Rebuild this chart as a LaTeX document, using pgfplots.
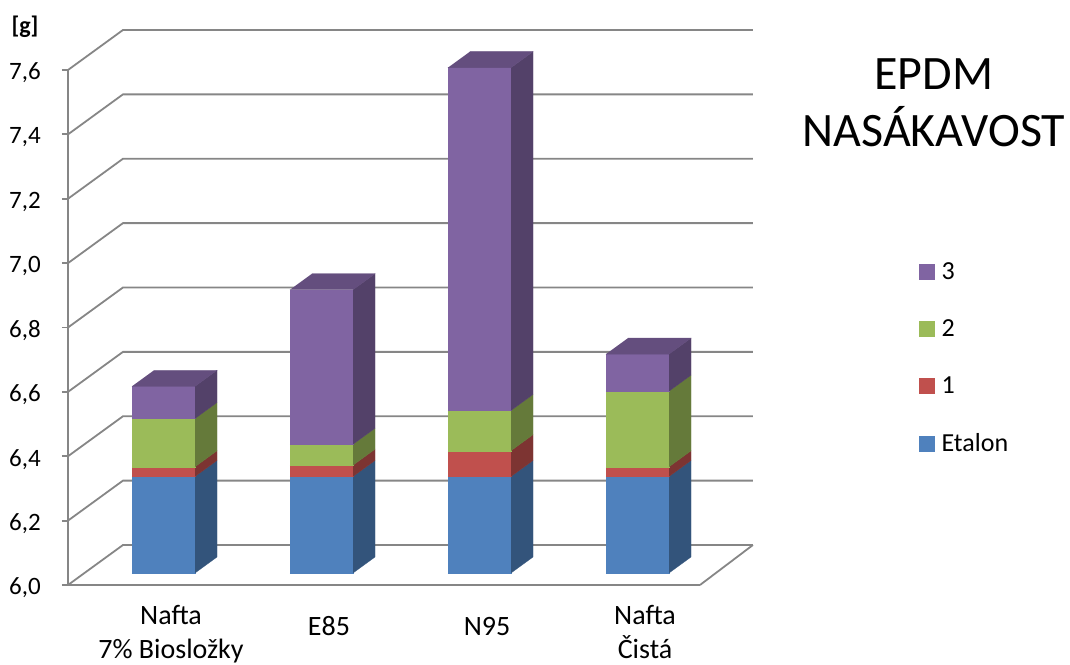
\documentclass[border=0pt]{standalone}
\usepackage{pgfplots}
\pgfplotsset{compat=1.18}
\usepackage{pgfplotstable}
\usepackage{fontspec}
\setmainfont{Carlito}

\definecolor{cBlue}{HTML}{4F81BD}
\definecolor{cRed}{HTML}{C0504D}
\definecolor{cGreen}{HTML}{9BBB59}
\definecolor{cPurple}{HTML}{8064A2}
\definecolor{wallgray}{HTML}{868686}

% series values (increments of the stacked bars)
\pgfplotstableread{
cat etalon s1 s2 s3
0 6.30 0.030 0.150 0.100
1 6.30 0.035 0.065 0.480
2 6.30 0.080 0.125 1.065
3 6.30 0.030 0.235 0.115
}\datatable

% 3D geometry (data units): front plane of bars at depth 0.3, bar depth 0.4
\newcommand\barseg[4]{%
  \pgfmathsetmacro\xa{#1+0.1044-0.1995}%
  \pgfmathsetmacro\xb{#1+0.1044+0.1995}%
  \pgfmathsetmacro\xc{\xb+0.1392}%
  \pgfmathsetmacro\ya{#2+0.0373}%
  \pgfmathsetmacro\yb{#3+0.0373}%
  \pgfmathsetmacro\yc{\ya+0.0497}%
  \pgfmathsetmacro\yd{\yb+0.0497}%
  \edef\tmp{%
    \noexpand\addplot[forget plot, fill=#4, draw=#4, line width=0.3pt] coordinates {(\xa,\ya) (\xb,\ya) (\xb,\yb) (\xa,\yb)};%
    \noexpand\addplot[forget plot, fill=#4!65!black, draw=#4!65!black, line width=0.3pt] coordinates {(\xb,\ya) (\xc,\yc) (\xc,\yd) (\xb,\yb)};%
  }\tmp}
\newcommand\bartop[3]{%
  \pgfmathsetmacro\xa{#1+0.1044-0.1995}%
  \pgfmathsetmacro\xb{#1+0.1044+0.1995}%
  \pgfmathsetmacro\xc{\xb+0.1392}%
  \pgfmathsetmacro\xd{\xa+0.1392}%
  \pgfmathsetmacro\ya{#2+0.0373}%
  \pgfmathsetmacro\yc{\ya+0.0497}%
  \edef\tmp{%
    \noexpand\addplot[forget plot, fill=#3!78!black, draw=#3!78!black, line width=0.3pt] coordinates {(\xa,\ya) (\xb,\ya) (\xc,\yc) (\xd,\yc)};%
  }\tmp}

\begin{document}
\begin{tikzpicture}
\useasboundingbox (0,0) rectangle (1070pt,664pt);
\begin{axis}[
  at={(68pt,79pt)}, anchor=south west,
  scale only axis, width=632pt, height=515pt,
  xmin=-0.5, xmax=3.5, ymin=6, ymax=7.6,
  clip=false,
  axis x line*=bottom, axis y line*=left,
  axis line style={-, draw=wallgray, line width=1.8pt},
  xtick={0,1,2,3},
  xticklabels={{Nafta\\7\% Biosložky},{\rule{0pt}{30pt}E85},{\rule{0pt}{30pt}N95},{Nafta\\Čistá}},
  x tick label style={align=center, font=\fontsize{28}{34}\selectfont, inner sep=0pt, anchor=north, xshift=24pt, yshift=-14pt},
  xtick style={draw=none},
  ytick={6,6.2,6.4,6.6,6.8,7.0,7.2,7.4,7.6},
  tick align=outside, major tick length=6pt,
  ytick style={draw=wallgray, line width=1.8pt},
  y tick label style={font=\fontsize{25}{30}\selectfont, inner sep=0pt, anchor=east, xshift=-21pt, yshift=-3pt},
  yticklabel style={/pgf/number format/.cd, use comma, fixed, fixed zerofill, precision=1, assume math mode=true},
  ylabel={[g]},
  every axis y label/.style={at={(axis description cs:-0.068,1.0835)}, anchor=center, font=\bfseries\fontsize{24}{29}\selectfont},
  title={EPDM\\NASÁKAVOST},
  every axis title/.style={at={(axis description cs:1.370,0.937)}, anchor=center, align=center, font=\fontsize{48}{57}\selectfont},
  legend style={at={(axis description cs:1.3465,0.4406)}, anchor=west, draw=none, fill=none,
    font=\fontsize{26}{31}\selectfont, row sep=34.6pt, column sep=5pt, inner sep=0pt},
  legend cell align=left,
]
% walls: side-wall diagonals and back-wall gridlines
\pgfplotsinvokeforeach{6.0,6.2,6.4,6.6,6.8,7.0,7.2,7.4,7.6}{
  \pgfmathsetmacro\yy{#1+0.1243}
  \edef\tmp{\noexpand\addplot[forget plot, draw=wallgray, line width=1.8pt] coordinates {(-0.5,#1) (-0.152,\yy) (3.835,\yy)};}\tmp
}
\addplot[forget plot, draw=wallgray, line width=1.8pt] coordinates {(3.5,6.0) (3.835,6.1243)};
% bars
\pgfplotsinvokeforeach{0,1,2,3}{
  \pgfplotstablegetelem{#1}{etalon}\of\datatable \pgfmathsetmacro\cA{\pgfplotsretval}
  \pgfplotstablegetelem{#1}{s1}\of\datatable \pgfmathsetmacro\cB{\cA+\pgfplotsretval}
  \pgfplotstablegetelem{#1}{s2}\of\datatable \pgfmathsetmacro\cC{\cB+\pgfplotsretval}
  \pgfplotstablegetelem{#1}{s3}\of\datatable \pgfmathsetmacro\cD{\cC+\pgfplotsretval}
  \barseg{#1}{6.0}{\cA}{cBlue}
  \barseg{#1}{\cA}{\cB}{cRed}
  \barseg{#1}{\cB}{\cC}{cGreen}
  \barseg{#1}{\cC}{\cD}{cPurple}
  \bartop{#1}{\cD}{cPurple}
}
% legend
\addlegendimage{legend image code/.code={\fill[cPurple] (0pt,-7.5pt) rectangle (15pt,7.5pt);}}
\addlegendentry{3}
\addlegendimage{legend image code/.code={\fill[cGreen] (0pt,-7.5pt) rectangle (15pt,7.5pt);}}
\addlegendentry{2}
\addlegendimage{legend image code/.code={\fill[cRed] (0pt,-7.5pt) rectangle (15pt,7.5pt);}}
\addlegendentry{1}
\addlegendimage{legend image code/.code={\fill[cBlue] (0pt,-7.5pt) rectangle (15pt,7.5pt);}}
\addlegendentry{Etalon}
\end{axis}
\end{tikzpicture}
\end{document}
